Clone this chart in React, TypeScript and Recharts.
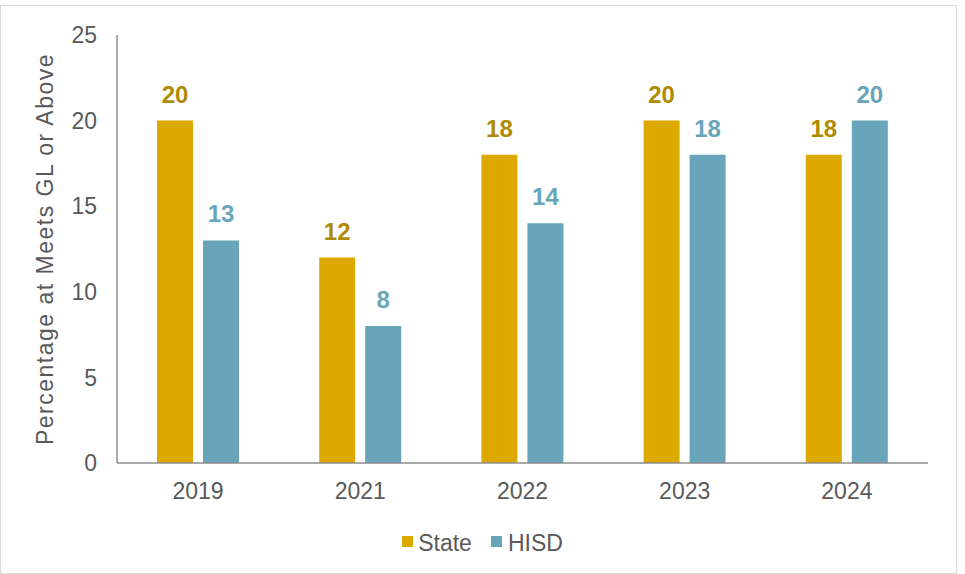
import React from "react";
import { BarChart, Bar, XAxis, YAxis, LabelList } from "recharts";

const years = ["2019", "2021", "2022", "2023", "2024"];
const stateValues = [20, 12, 18, 20, 18];
const hisdValues = [13, 8, 14, 18, 20];
const yTicks = [0, 5, 10, 15, 20, 25];
const seriesNames = ["State", "HISD"];

const data = years.map((y, i) => ({ year: y, State: stateValues[i], HISD: hisdValues[i] }));

const FONT = "'Liberation Sans', Arial, sans-serif";
const STATE_COLOR = "#DDA900";
const STATE_LABEL = "#B08A00";
const HISD_COLOR = "#68A5BA";
const HISD_LABEL = "#68A5BA";
const seriesColors = [STATE_COLOR, HISD_COLOR];

const LegendBlock = () => (
  <div
    style={{
      position: "absolute",
      left: 0,
      top: 530,
      width: 965,
      display: "flex",
      justifyContent: "center",
      alignItems: "center",
      fontFamily: FONT,
      fontSize: 23,
      lineHeight: "26px",
      color: "#595959",
    }}
  >
    {seriesNames.map((n, i) => (
      <React.Fragment key={n}>
        <span
          style={{
            width: 11,
            height: 11,
            background: seriesColors[i],
            display: "inline-block",
            marginRight: i === 0 ? 5 : 6,
            transform: "translateY(-2px)",
          }}
        />
        <span style={{ marginRight: i === 0 ? 19 : 0 }}>{n}</span>
      </React.Fragment>
    ))}
  </div>
);

export default function App() {
  return (
    <div style={{ position: "absolute", left: 0, top: 0, width: 965, height: 574, background: "#fff" }}>
      <div style={{ position: "absolute", left: 0, top: 5, width: 955, height: 567, border: "1px solid #d9d9d9" }} />
      <div style={{ position: "absolute", left: 0, top: 0 }}>
        <BarChart
          width={965}
          height={574}
          data={data}
          margin={{ top: 35, right: 37, bottom: 81, left: 0 }}
          barSize={36}
          barGap={10}
        >
          <XAxis
            dataKey="year"
            height={30}
            tickLine={false}
            tickSize={0}
            tickMargin={20}
            axisLine={{ stroke: "#8c8c8c", strokeWidth: 1.5 }}
            tick={{ fill: "#595959", fontSize: 23, fontFamily: FONT }}
          />
          <YAxis
            width={117}
            domain={[0, 25]}
            ticks={yTicks}
            tickLine={false}
            tickSize={0}
            tickMargin={20}
            axisLine={{ stroke: "#8c8c8c", strokeWidth: 1.5 }}
            tick={{ fill: "#595959", fontSize: 23, fontFamily: FONT }}
            label={{
              content: () => (
                <text
                  x={45}
                  y={249}
                  transform="rotate(-90, 45, 249)"
                  textAnchor="middle"
                  dominantBaseline="central"
                  fill="#595959"
                  fontSize={23}
                  letterSpacing={1.5}
                  fontFamily={FONT}
                >
                  Percentage at Meets GL or Above
                </text>
              ),
            }}
          />
          <Bar dataKey="State" fill={STATE_COLOR} isAnimationActive={false}>
            <LabelList dataKey="State" position="top" offset={18} fill={STATE_LABEL} fontSize={24} fontWeight="bold" fontFamily={FONT} />
          </Bar>
          <Bar dataKey="HISD" fill={HISD_COLOR} isAnimationActive={false}>
            <LabelList dataKey="HISD" position="top" offset={18} fill={HISD_LABEL} fontSize={24} fontWeight="bold" fontFamily={FONT} />
          </Bar>
        </BarChart>
      </div>
      <LegendBlock />
    </div>
  );
}
